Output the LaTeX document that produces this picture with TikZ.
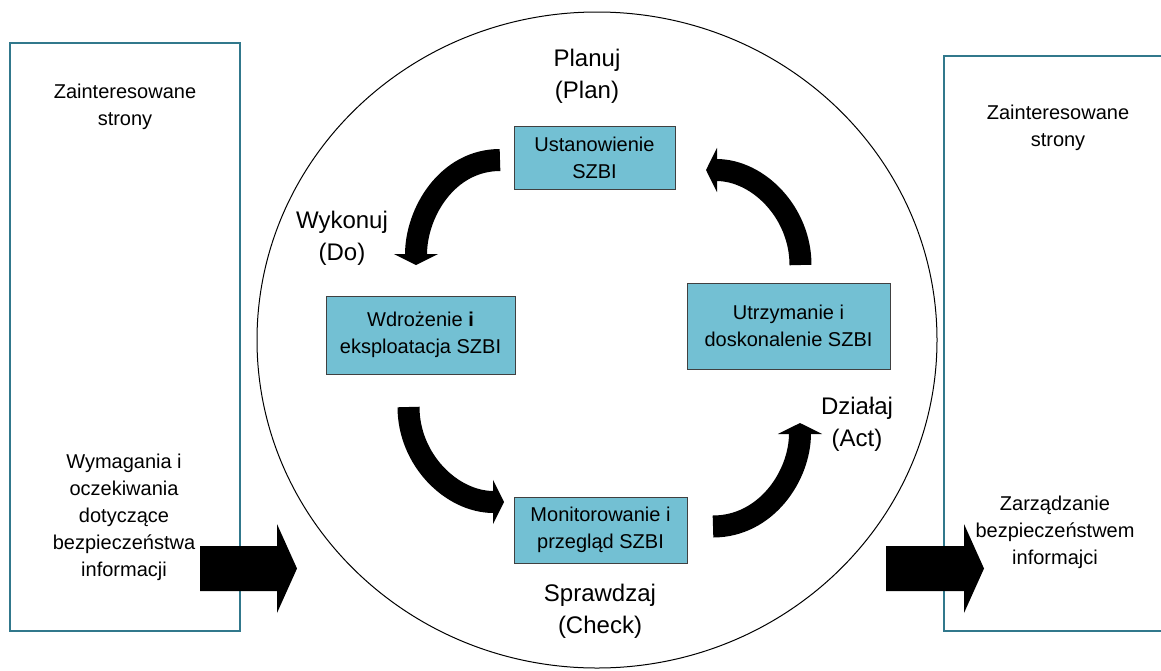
\documentclass[tikz,border=0pt]{standalone}
\usepackage{fontspec}
\setmainfont{Liberation Sans}
\usetikzlibrary{positioning, arrows.meta}
\definecolor{frameteal}{RGB}{49,120,140}
\definecolor{szbiblue}{RGB}{115,192,211}
\tikzstyle{SideBox} = [rectangle, draw=frameteal, line width=1pt]
\tikzstyle{SzbiBox} = [
rectangle, draw=black!75, fill=szbiblue,
align=center, inner sep=2pt,
font=\fontsize{10}{13.5}\selectfont]
\tikzstyle{Note} = [align=center, font=\fontsize{10}{13.5}\selectfont]
\tikzstyle{Phase} = [align=center, font=\fontsize{12}{16}\selectfont]
\tikzstyle{Cycle} = [
line width=11pt,
-{Triangle[width=22pt, length=5.5pt]}]
\tikzstyle{BigArrow} = [fill=black]

\begin{document}
\begin{tikzpicture}[x=0.5pt, y=0.5pt]
    \useasboundingbox (0,0) rectangle (1161,-670);
    % side frames
    \node [SideBox, minimum width=115pt, minimum height=294pt] (left) at (125,-337) {};
    \node [SideBox, minimum width=118pt, minimum height=287.5pt] (right) at (1062,-343.5) {};
    \node [Note] (leftup) at (125,-107) {Zainteresowane\\strony};
    \node [Note] (leftdown) at (124,-517) {Wymagania i\\oczekiwania\\dotyczące\\bezpieczeństwa\\informacji};
    \node [Note] (rightup) at (1058,-128) {Zainteresowane\\strony};
    \node [Note] (rightdown) at (1055,-532) {Zarządzanie\\bezpieczeństwem\\informajci};
    % cycle
    \draw [line width=0.5pt] (597,-340) ellipse [x radius=340, y radius=328];
    \node [SzbiBox, minimum width=80.5pt, minimum height=31.5pt] (est) at (594.5,-157.5) {Ustanowienie\\SZBI};
    \node [SzbiBox, minimum width=94.5pt, minimum height=39pt] (impl) at (420.5,-335) {Wdrożenie \textbf{i}\\eksploatacja SZBI};
    \node [SzbiBox, minimum width=101.5pt, minimum height=43pt] (maint) at (788.5,-326) {Utrzymanie i\\doskonalenie SZBI};
    \node [SzbiBox, minimum width=86.5pt, minimum height=33pt] (mon) at (600.5,-530) {Monitorowanie i\\przegląd SZBI};
    \node [Phase] (plan) at (587,-76) {Planuj\\(Plan)};
    \node [Phase] (do) at (342,-238) {Wykonuj\\(Do)};
    \node [Phase] (act) at (857,-424) {Działaj\\(Act)};
    \node [Phase] (check) at (600,-611) {Sprawdzaj\\(Check)};
    \coordinate (p1) at (500,-160);
    \coordinate (p2) at (416,-265);
    \coordinate (d1) at (408.5,-407);
    \coordinate (d2) at (504,-502);
    \coordinate (c1) at (713,-526.5);
    \coordinate (c2) at (800,-423);
    \coordinate (a1) at (800.5,-265);
    \coordinate (a2) at (706,-170);
    \draw[Cycle] (p1) to[out=180, in=90] (p2);
    \draw[Cycle] (d1) to[out=-90, in=180] (d2);
    \draw[Cycle] (c1) to[out=0, in=-90] (c2);
    \draw[Cycle] (a1) to[out=90, in=0] (a2);
    % in and out
    \fill[BigArrow] (200,-546) -- (277,-546) -- (277,-524) -- (297,-568.5)
        -- (277,-613) -- (277,-591) -- (200,-591) -- cycle;
    \fill[BigArrow] (886,-546) -- (964,-546) -- (964,-524) -- (984,-568.5)
        -- (964,-613) -- (964,-591) -- (886,-591) -- cycle;
\end{tikzpicture}
\end{document}
